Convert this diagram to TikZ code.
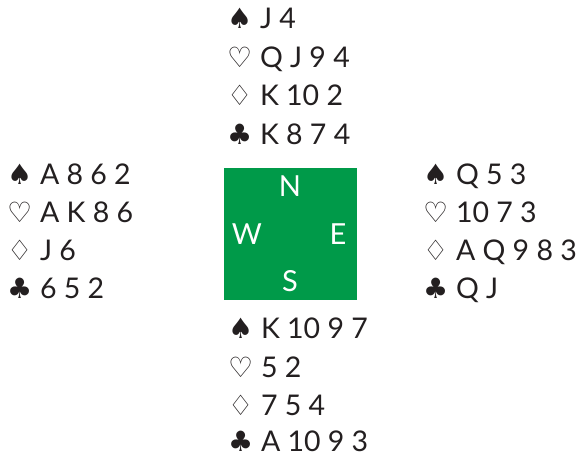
\documentclass[tikz,border=0pt]{standalone}
\usepackage{fontspec}
\setmainfont{Lato}
\newfontfamily\symfont{DejaVu Sans}
\definecolor{tablegreen}{RGB}{0,154,73}
\definecolor{inkc}{RGB}{35,31,32}
\newcommand{\suitline}[2]{\makebox[33pt][l]{\symfont\fontsize{28}{28}\selectfont #1}#2}
\begin{document}
\begin{tikzpicture}[x=1pt,y=-1pt,
  cardline/.style={anchor=base west,inner sep=0pt,outer sep=0pt,text depth=0pt,text=inkc,font=\fontsize{28.5}{28.5}\selectfont},
  compass/.style={text=white,inner sep=0pt,font=\fontsize{29}{29}\selectfont}]
\useasboundingbox (0,0) rectangle (578,456);
\fill[tablegreen] (224,168) rectangle (357,300);
\node[compass] (cn) at (290,186) {N};
\node[compass] (cw) at (247,234) {W};
\node[compass] (ce) at (338,234) {E};
\node[compass] (cs) at (290,281) {S};
% North
\node[cardline] (n1) at (227,28) {\suitline{♠}{J 4}};
\node[cardline] (n2) at (227,67) {\suitline{♡}{Q J 9 4}};
\node[cardline] (n3) at (227,105) {\suitline{♢}{K 10 2}};
\node[cardline] (n4) at (227,144) {\suitline{♣}{K 8 7 4}};
% West
\node[cardline] (w1) at (7,184) {\suitline{♠}{A 8 6 2}};
\node[cardline] (w2) at (7,222) {\suitline{♡}{A K 8 6}};
\node[cardline] (w3) at (7,260) {\suitline{♢}{J 6}};
\node[cardline] (w4) at (7,298) {\suitline{♣}{6 5 2}};
% East
\node[cardline] (e1) at (423,184) {\suitline{♠}{Q 5 3}};
\node[cardline] (e2) at (423,222) {\suitline{♡}{10 7 3}};
\node[cardline] (e3) at (423,260) {\suitline{♢}{A Q 9 8 3}};
\node[cardline] (e4) at (423,298) {\suitline{♣}{Q J}};
% South
\node[cardline] (s1) at (228,338) {\suitline{♠}{K 10 9 7}};
\node[cardline] (s2) at (228,377) {\suitline{♡}{5 2}};
\node[cardline] (s3) at (228,415) {\suitline{♢}{7 5 4}};
\node[cardline] (s4) at (228,451) {\suitline{♣}{A 10 9 3}};
\end{tikzpicture}
\end{document}
